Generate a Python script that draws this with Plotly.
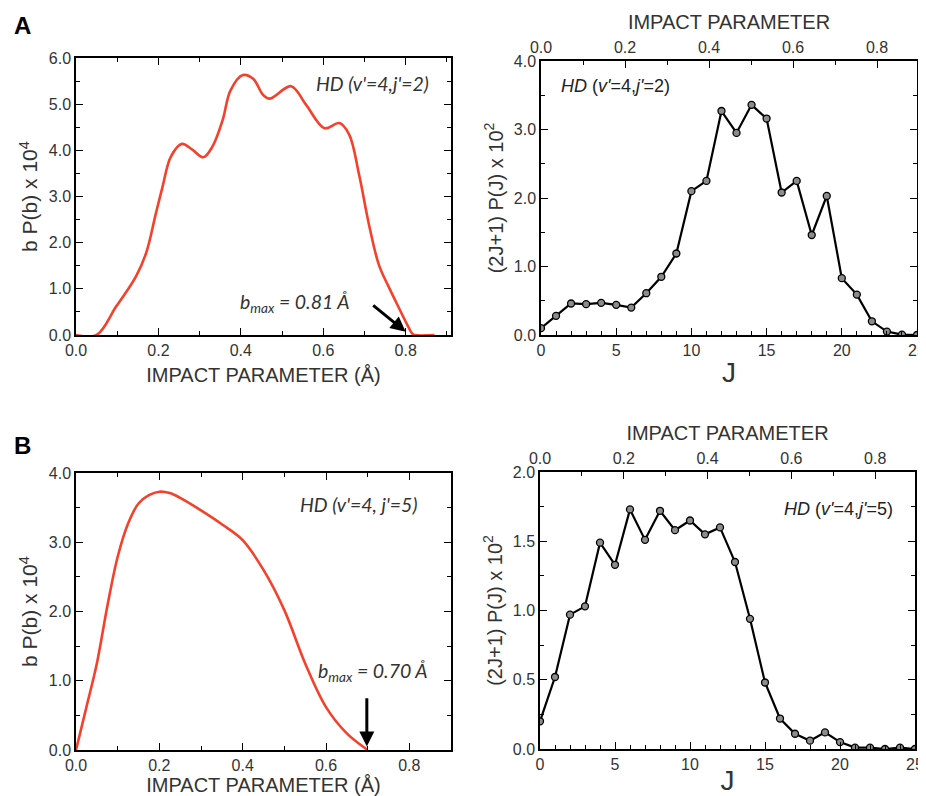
import plotly.graph_objects as go

# ---------------- data ----------------
# Panel A (left): b P(b) x 10^4 vs impact parameter
b_A = [0, 0.05, 0.097, 0.145, 0.17, 0.194, 0.21, 0.23, 0.257, 0.283, 0.309, 0.331, 0.356,
       0.375, 0.405, 0.43, 0.454, 0.47, 0.522, 0.558, 0.603, 0.639, 0.663, 0.687, 0.711,
       0.735, 0.76, 0.784, 0.804, 0.816, 0.822, 0.87]
bP_A = [0, 0, 0.61, 1.26, 1.77, 2.64, 3.21, 3.86, 4.14, 4.01, 3.85, 4.08, 4.66,
        5.3, 5.63, 5.55, 5.2, 5.12, 5.39, 4.99, 4.48, 4.59, 4.34, 3.47, 2.39,
        1.52, 1.02, 0.58, 0.22, 0.03, 0, 0]

# Panel B (left)
b_B = [0, 0.025, 0.05, 0.075, 0.1, 0.125, 0.15, 0.175, 0.2, 0.225, 0.25, 0.3, 0.35,
       0.4, 0.45, 0.5, 0.55, 0.6, 0.65, 0.7]
bP_B = [0, 0.62, 1.25, 2.07, 2.79, 3.27, 3.56, 3.68, 3.73, 3.71, 3.64, 3.46, 3.26,
        3.03, 2.6, 2.02, 1.25, 0.62, 0.24, 0]

# Right panels: (2J+1) P(J) x 10^2 vs J
J = list(range(26))
PJ_A = [0.10, 0.28, 0.46, 0.45, 0.47, 0.44, 0.40, 0.61, 0.85, 1.19, 2.10, 2.25, 3.27,
        2.95, 3.36, 3.16, 2.08, 2.25, 1.46, 2.03, 0.83, 0.59, 0.20, 0.05, 0.005, 0.0]
PJ_B = [0.20, 0.52, 0.97, 1.03, 1.49, 1.33, 1.73, 1.51, 1.72, 1.58, 1.65, 1.55, 1.60,
        1.35, 0.94, 0.48, 0.22, 0.11, 0.06, 0.12, 0.05, 0.01, 0.01, 0.0, 0.01, 0.0]

RED = "#F5412B"
FONT = "Liberation Sans, Arial, sans-serif"
TICKC = "#333333"
OFF = 8  # page body margin
W, H = 926 - OFF, 796 - OFF


def px_x(p):
    return (p - OFF) / W


def px_y(p):
    return 1 - (p - OFF) / H


fig = go.Figure()

fig.add_trace(go.Scatter(x=b_A, y=bP_A, mode="lines", line=dict(color=RED, width=2.6, shape="spline", smoothing=1.0),
                         xaxis="x", yaxis="y", showlegend=False, hoverinfo="skip"))
fig.add_trace(go.Scatter(x=J, y=PJ_A, mode="lines+markers", line=dict(color="black", width=2.2),
                         marker=dict(size=7, color="#8c8c8c", line=dict(color="black", width=1.3)),
                         xaxis="x2", yaxis="y2", showlegend=False, hoverinfo="skip"))
fig.add_trace(go.Scatter(x=b_B, y=bP_B, mode="lines", line=dict(color=RED, width=2.6, shape="spline", smoothing=1.0),
                         xaxis="x3", yaxis="y3", showlegend=False, hoverinfo="skip"))
fig.add_trace(go.Scatter(x=J, y=PJ_B, mode="lines+markers", line=dict(color="black", width=2.2),
                         marker=dict(size=7, color="#8c8c8c", line=dict(color="black", width=1.3)),
                         xaxis="x4", yaxis="y4", showlegend=False, hoverinfo="skip"))
# dummy traces to anchor the top impact parameter axes
fig.add_trace(go.Scatter(x=[0, 0.895], y=[None, None], mode="lines", xaxis="x5", yaxis="y2",
                         showlegend=False, hoverinfo="skip"))
fig.add_trace(go.Scatter(x=[0, 0.895], y=[None, None], mode="lines", xaxis="x6", yaxis="y4",
                         showlegend=False, hoverinfo="skip"))


def ax(domain, rng, dtick, minor, fmt, title=None, tsize=20, standoff=8, mirror="ticks", **kw):
    d = dict(domain=domain, range=rng, dtick=dtick, tick0=0, tickformat=fmt,
             ticks="inside", ticklen=7, tickwidth=1.3, tickcolor="black",
             minor=dict(dtick=minor, ticks="inside", ticklen=4, tickwidth=1.2, tickcolor="black"),
             showline=True, linecolor="black", linewidth=1.5, mirror=mirror,
             showgrid=False, zeroline=False, automargin=False,
             tickfont=dict(family=FONT, size=16, color=TICKC))
    if title is not None:
        d["title"] = dict(text=title, font=dict(family=FONT, size=tsize, color=TICKC), standoff=standoff)
    d.update(kw)
    return d


dA_l = [px_x(76), px_x(451)]
dA_r = [px_x(541), px_x(917)]
dB_l = [px_x(76), px_x(451)]
dB_r = [px_x(540), px_x(915)]
yA_l = [px_y(335), px_y(58)]
yA_r = [px_y(335), px_y(61)]
yB_l = [px_y(750), px_y(473)]
yB_r = [px_y(749), px_y(472)]

fig.update_layout(
    width=W, height=H,
    margin=dict(l=0, r=0, t=0, b=0, autoexpand=False),
    paper_bgcolor="white", plot_bgcolor="white",
    xaxis=ax(dA_l, [0, 0.91], 0.2, 0.1, ".1f", "IMPACT PARAMETER (Å)", standoff=10, anchor="y"),
    yaxis=ax(yA_l, [0, 6], 1, 0.5, ".1f", "b P(b) x 10<sup>4</sup>", tsize=21, standoff=5, anchor="x"),
    xaxis2=ax(dA_r, [0, 25], 5, 1, "d", "J", tsize=28, standoff=4, mirror=True, anchor="y2"),
    yaxis2=ax(yA_r, [0, 4], 1, 0.5, ".1f", "(2J+1) P(J) x 10<sup>2</sup>", standoff=5, anchor="x2"),
    xaxis5=ax(dA_r, [0, 0.895], 0.2, 0.1, ".1f", "IMPACT PARAMETER", standoff=4, mirror=False,
              overlaying="x2", side="top", anchor="y2"),
    xaxis3=ax(dB_l, [0, 0.9], 0.2, 0.1, ".1f", "IMPACT PARAMETER (Å)", standoff=10, anchor="y3"),
    yaxis3=ax(yB_l, [0, 4], 1, 0.5, ".1f", "b P(b) x 10<sup>4</sup>", tsize=21, standoff=5, anchor="x3"),
    xaxis4=ax(dB_r, [0, 25], 5, 1, "d", "J", tsize=28, standoff=4, mirror=True, anchor="y4"),
    yaxis4=ax(yB_r, [0, 2], 0.5, 0.25, ".1f", "(2J+1) P(J) x 10<sup>2</sup>", standoff=5, anchor="x4"),
    xaxis6=ax(dB_r, [0, 0.895], 0.2, 0.1, ".1f", "IMPACT PARAMETER", standoff=4, mirror=False,
              overlaying="x4", side="top", anchor="y4"),
)

ITAL = "Lato, Open Sans, sans-serif"
annots = [
    dict(text="<b>A</b>", x=px_x(12), y=px_y(10), xref="paper", yref="paper", xanchor="left", yanchor="top",
         showarrow=False, font=dict(family=FONT, size=24, color="black")),
    dict(text="<b>B</b>", x=px_x(12), y=px_y(430), xref="paper", yref="paper", xanchor="left", yanchor="top",
         showarrow=False, font=dict(family=FONT, size=24, color="black")),
    dict(text="<i>HD (v'=4,j'=2)</i>", x=0.862, y=5.44, xref="x", yref="y", xanchor="right", yanchor="middle",
         showarrow=False, font=dict(family=ITAL, size=19.5, color="#333")),
    dict(text="<i>HD</i> (<i>v'</i>=4,<i>j'</i>=2)", x=1.2, y=3.64, xref="x2", yref="y2", xanchor="left",
         yanchor="middle", showarrow=False, font=dict(family=FONT, size=18, color="#222")),
    dict(text="<i>HD (v'=4, j'=5)</i>", x=0.823, y=3.54, xref="x3", yref="y3", xanchor="right", yanchor="middle",
         showarrow=False, font=dict(family=ITAL, size=19.5, color="#333")),
    dict(text="<i>HD</i> (<i>v'</i>=4,<i>j'</i>=5)", x=23.67, y=1.73, xref="x4", yref="y4", xanchor="right",
         yanchor="middle", showarrow=False, font=dict(family=FONT, size=18, color="#222")),
    dict(text="<i>b<sub>max</sub> = 0.81 Å</i>", x=0.669, y=0.69, xref="x", yref="y", xanchor="right",
         yanchor="middle", showarrow=False, font=dict(family=ITAL, size=19.5, color="#333")),
    dict(text="<i>b<sub>max</sub> = 0.70 Å</i>", x=0.85, y=1.13, xref="x3", yref="y3", xanchor="right",
         yanchor="middle", showarrow=False, font=dict(family=ITAL, size=19.5, color="#333")),
    dict(text="", x=0.80, y=0.07, ax=0.7176, ay=0.67, xref="x", yref="y", axref="x", ayref="y",
         showarrow=True, arrowhead=2, arrowsize=1, arrowwidth=3, arrowcolor="black"),
    dict(text="", x=0.698, y=0.05, ax=0.698, ay=0.77, xref="x3", yref="y3", axref="x3", ayref="y3",
         showarrow=True, arrowhead=2, arrowsize=1, arrowwidth=3, arrowcolor="black"),
]
fig.update_layout(annotations=annots)

fig.write_html("out.html")
